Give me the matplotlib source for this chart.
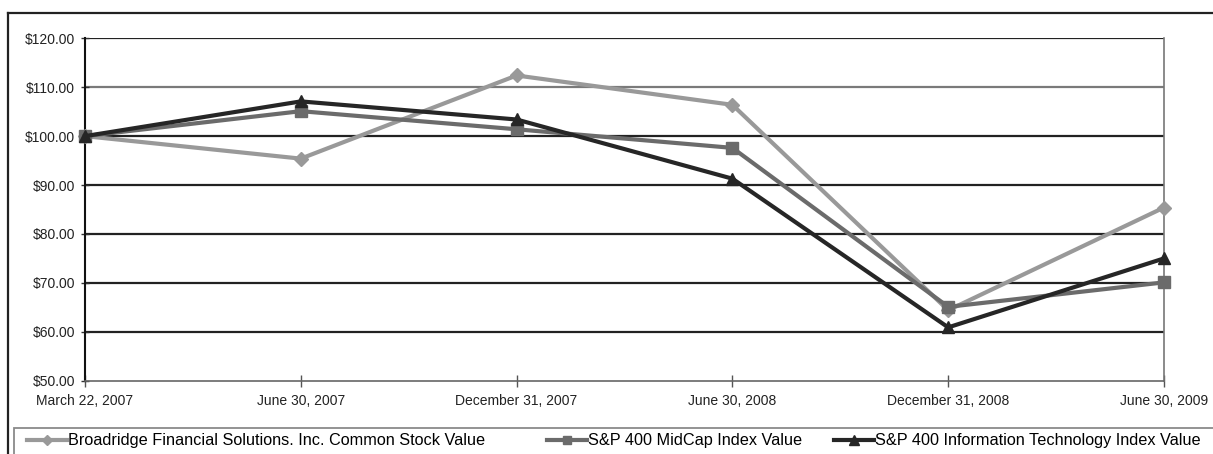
import matplotlib
matplotlib.use("Agg")
import matplotlib.pyplot as plt
from matplotlib.lines import Line2D
from matplotlib.patches import Rectangle
import numpy as np

plt.rcParams['font.family'] = ['Liberation Sans', 'DejaVu Sans']

categories = ["March 22, 2007", "June 30, 2007", "December 31, 2007",
              "June 30, 2008", "December 31, 2008", "June 30, 2009"]
broadridge = [100.0, 95.4, 112.4, 106.4, 64.4, 85.4]
midcap = [100.0, 105.1, 101.4, 97.6, 65.1, 70.1]
info_tech = [100.0, 107.1, 103.4, 91.3, 60.9, 75.0]
series_names = ["Broadridge Financial Solutions. Inc. Common Stock Value",
                "S&P 400 MidCap Index Value",
                "S&P 400 Information Technology Index Value"]
y_ticks = [50, 60, 70, 80, 90, 100, 110, 120]

W, H = 1213, 454
fig = plt.figure(figsize=(W / 100, H / 100), dpi=100)
ax = fig.add_axes([85 / W, 1 - 380.7 / H, (1164 - 85) / W, (380.7 - 38.3) / H])

x = np.arange(len(categories))
styles = [
    dict(color='#999999', marker='D', markersize=7),
    dict(color='#6b6b6b', marker='s', markersize=8.5),
    dict(color='#262626', marker='^', markersize=9),
]
lines = []
for vals, st, name in zip([broadridge, midcap, info_tech], styles, series_names):
    ln, = ax.plot(x, vals, lw=3.0, color=st['color'], marker=st['marker'],
                  markersize=st['markersize'], markerfacecolor=st['color'],
                  markeredgecolor=st['color'], label=name, zorder=3, clip_on=False)
    lines.append(ln)

ax.set_xlim(0, len(categories) - 1)
ax.set_ylim(50, 120)
ax.set_yticks(y_ticks)
ax.set_yticklabels([f"${v:.2f}" for v in y_ticks])
ax.set_xticks(x)
ax.set_xticklabels(categories)

for v in y_ticks[1:]:
    ax.axhline(v, color='#7a7a7a' if v == 110 else '#222222', lw=1.6, zorder=1)

ax.tick_params(axis='y', direction='inout', length=6, width=1, color='#333333',
               labelsize=10, pad=4, labelcolor='#222222')
ax.tick_params(axis='x', direction='inout', length=8, width=1, color='#555555',
               labelsize=10, pad=5.5, labelcolor='#222222')

ax.spines['top'].set_visible(False)
ax.spines['left'].set_color('#111111')
ax.spines['left'].set_linewidth(1.5)
ax.spines['bottom'].set_color('#666666')
ax.spines['bottom'].set_linewidth(1.2)
ax.spines['right'].set_color('#777777')
ax.spines['right'].set_linewidth(1.2)

# outer frame
fig.add_artist(Line2D([8 / W, 8 / W], [0, 1 - 13 / H], transform=fig.transFigure,
                      color='#222222', lw=1.6))
fig.add_artist(Line2D([8 / W, 1], [1 - 13 / H, 1 - 13 / H], transform=fig.transFigure,
                      color='#222222', lw=1.6))
# legend box
fig.add_artist(Rectangle((14 / W, -0.1), 1.1, 0.1 + (1 - 428 / H), transform=fig.transFigure,
                         fill=False, edgecolor='#8a8a8a', lw=1.3))

# legend entries
leg_fs = 11.7
leg_x = [26.5, 546.5, 833.5]
for ln, lx in zip(lines, leg_x):
    fig.legend(handles=[ln], loc='center left', bbox_to_anchor=(lx / W, 1 - 441 / H),
               frameon=False, fontsize=leg_fs, handlelength=2.5, handletextpad=0.05,
               borderpad=0, borderaxespad=0, numpoints=1, markerscale=0.75)

# title, almost entirely above the visible area (only descenders show)
fig.text(884 / W, 1 + 2.6 / H,
         "Comparison of Cumulative Total Return Among Company, S&P 400 MidCap Index and S&P 400 Information Technology Index (In Dollars)",
         ha='right', va='baseline', fontsize=12, fontweight='bold', color='#222222')

fig.savefig("out.png", dpi=100)
